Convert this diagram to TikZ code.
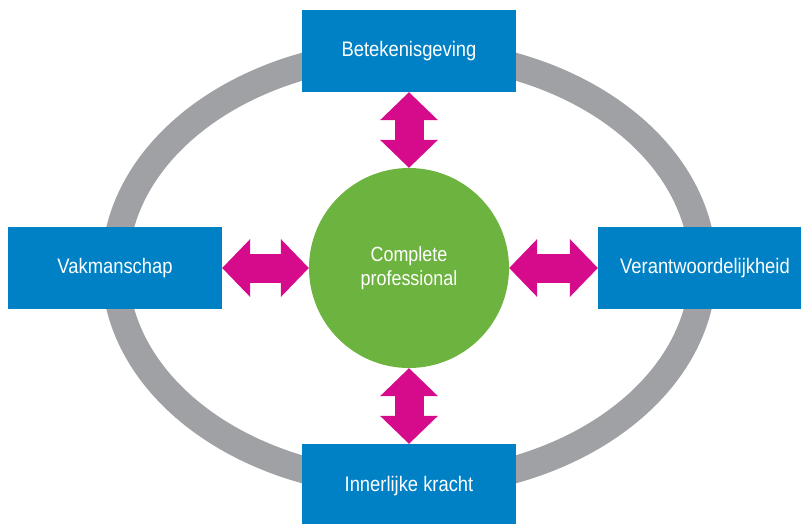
\documentclass[tikz,border=0pt]{standalone}
\usepackage{fontspec}
\setmainfont[FakeStretch=0.875]{Liberation Sans}
\usetikzlibrary{arrows.meta}
\definecolor{boxblue}{RGB}{0,129,198}
\definecolor{ringgray}{RGB}{160,161,165}
\definecolor{centergreen}{RGB}{109,179,63}
\definecolor{linkmagenta}{RGB}{214,11,140}
\tikzset{
  topic/.style={rectangle, fill=boxblue, draw=none, inner sep=0pt,
    minimum width=214pt, minimum height=82pt, text=white,
    font=\fontsize{21}{23}\selectfont},
  core/.style={circle, fill=centergreen, draw=none, inner sep=0pt,
    minimum size=200pt, text=white, align=center,
    font=\fontsize{20.5}{23.5}\selectfont},
  ring/.style={draw=ringgray, line width=27pt},
  link/.style={draw=linkmagenta, line width=29pt,
    {Triangle[length=28pt,width=58pt,line width=0pt]}-{Triangle[length=28pt,width=58pt,line width=0pt]}},
}
\begin{document}
\begin{tikzpicture}[x=1pt,y=-1pt]
\useasboundingbox (0,0) rectangle (801,523);
\draw[ring] (409,268) ellipse [x radius=294pt, y radius=216pt];
\node[topic] (top) at (409,51) {Betekenisgeving};
\node[topic] (left) at (115,268) {Vakmanschap};
\node[topic] (right) at (705,268) {Verantwoordelijkheid};
\node[topic, minimum height=84pt] (bottom) at (409,486) {Innerlijke kracht};
\node[core] (c) at (409,268) {Complete\\professional};
\draw[link] (top.south) -- (c.north);
\draw[link] (c.south) -- (bottom.north);
\draw[link] (left.east) -- (c.west);
\draw[link] (c.east) -- (right.west);
\end{tikzpicture}
\end{document}
